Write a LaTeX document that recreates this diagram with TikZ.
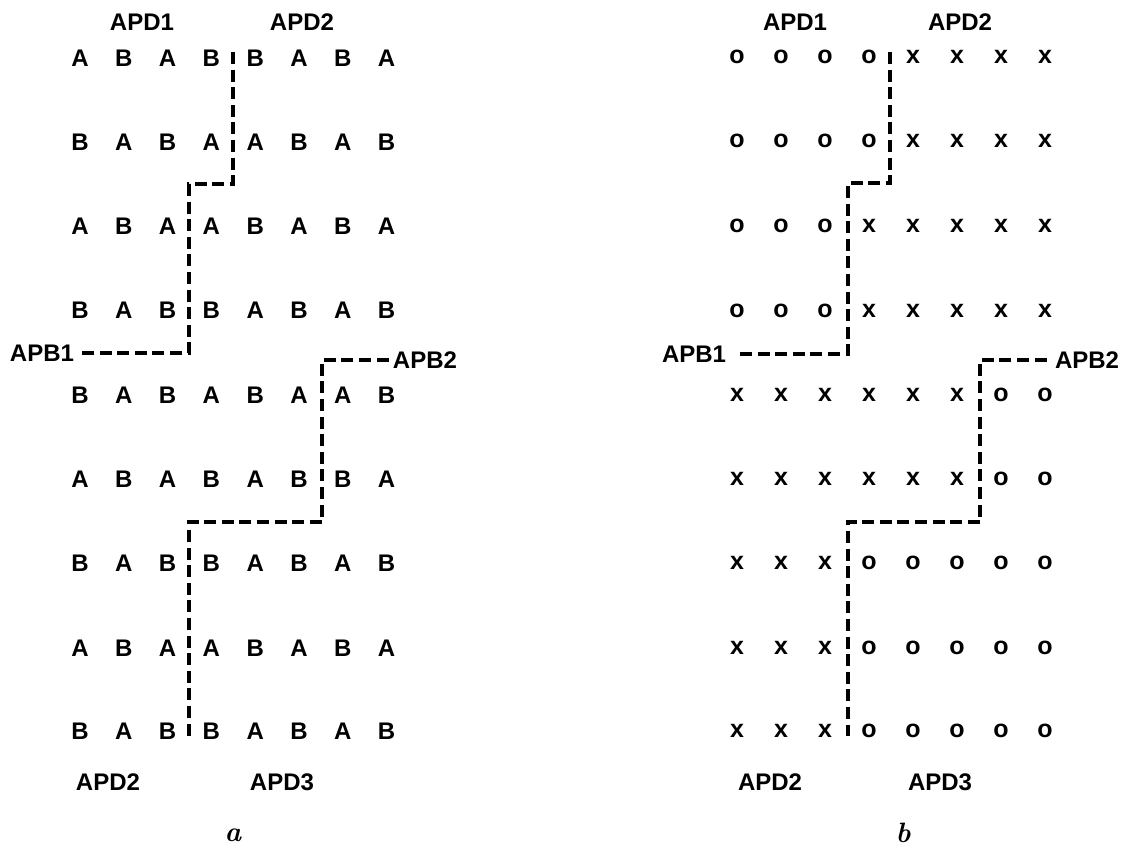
\documentclass[tikz,border=0pt]{standalone}
\usepackage{fontspec}
\newfontfamily\sansb{Liberation Sans}
\begin{document}
\begin{tikzpicture}[x=0.5pt,y=-0.5pt,
  cell/.style={font=\sansb\fontsize{12}{13}\selectfont\bfseries, inner sep=0pt},
  sym/.style={font=\sansb\fontsize{12.5}{13}\selectfont\bfseries, inner sep=0pt},
  lab/.style={font=\sansb\fontsize{12}{14}\selectfont\bfseries, inner sep=0pt},
  bnd/.style={line width=1.6pt, dash pattern=on 6pt off 2.8pt},
  panelcap/.style={font=\fontsize{14}{16}\selectfont\bfseries\itshape, inner sep=0pt}]
\useasboundingbox (0,0) rectangle (1128,848);

% ---------- panel a ----------
\foreach \r/\yy/\row in {
  1/58/{A,B,A,B,B,A,B,A},
  2/142/{B,A,B,A,A,B,A,B},
  3/226/{A,B,A,A,B,A,B,A},
  4/310/{B,A,B,B,A,B,A,B},
  5/395/{B,A,B,A,B,A,A,B},
  6/479/{A,B,A,B,A,B,B,A},
  7/563/{B,A,B,B,A,B,A,B},
  8/648/{A,B,A,A,B,A,B,A},
  9/731/{B,A,B,B,A,B,A,B}}
  \foreach \l [count=\c] in \row
    \node[cell] (a\r-\c) at ({80+43.8*(\c-1)},\yy) {\l};

\node[lab] (aapd1) at (142,22) {APD1};
\node[lab] (aapd2) at (302,22) {APD2};
\node[lab] (aapd2b) at (108,782) {APD2};
\node[lab] (aapd3) at (282,782) {APD3};
\node[lab] (aapb1) at (42,353) {APB1};
\node[lab] (aapb2) at (425,360) {APB2};
\node[panelcap] (acap) at (233,835) {a};

\coordinate (aT) at (233,52);
\coordinate (aK1) at (233,184);
\coordinate (aK2) at (189,184);
\coordinate (aP1) at (189,353);
\coordinate (aQ1) at (322,360);
\coordinate (aQ2) at (322,522);
\coordinate (aQ3) at (189,522);
\coordinate (aB) at (189,736);
\draw[bnd, shorten >=1.5pt] (aT) -- (aK1) -- (aK2) -- (aP1) -- (aapb1.east);
\draw[bnd, shorten <=2pt] (aapb2.west) -- (aQ1) -- (aQ2) -- (aQ3) -- (aB);

% ---------- panel b ----------
\foreach \r/\yy/\row in {
  1/57/{o,o,o,o,x,x,x,x},
  2/141/{o,o,o,o,x,x,x,x},
  3/226/{o,o,o,x,x,x,x,x},
  4/311/{o,o,o,x,x,x,x,x},
  5/395/{x,x,x,x,x,x,o,o},
  6/479/{x,x,x,x,x,x,o,o},
  7/563/{x,x,x,o,o,o,o,o},
  8/648/{x,x,x,o,o,o,o,o},
  9/731/{x,x,x,o,o,o,o,o}}
  \foreach \l [count=\c] in \row
    \node[sym] (b\r-\c) at ({737+44*(\c-1)},\yy) {\l};

\node[lab] (bapd1) at (795,22) {APD1};
\node[lab] (bapd2) at (960,22) {APD2};
\node[lab] (bapd2b) at (770,782) {APD2};
\node[lab] (bapd3) at (940,782) {APD3};
\node[lab] (bapb1) at (694,354) {APB1};
\node[lab] (bapb2) at (1087,360) {APB2};
\node[panelcap] (bcap) at (903,833) {b};

\coordinate (bT) at (890,52);
\coordinate (bK1) at (890,183);
\coordinate (bK2) at (848,183);
\coordinate (bP1) at (848,354);
\coordinate (bQ1) at (980,360);
\coordinate (bQ2) at (980,522);
\coordinate (bQ3) at (848,522);
\coordinate (bB) at (848,736);
\draw[bnd, shorten >=4pt] (bT) -- (bK1) -- (bK2) -- (bP1) -- (bapb1.east);
\draw[bnd, shorten <=4pt] (bapb2.west) -- (bQ1) -- (bQ2) -- (bQ3) -- (bB);
\end{tikzpicture}
\end{document}
